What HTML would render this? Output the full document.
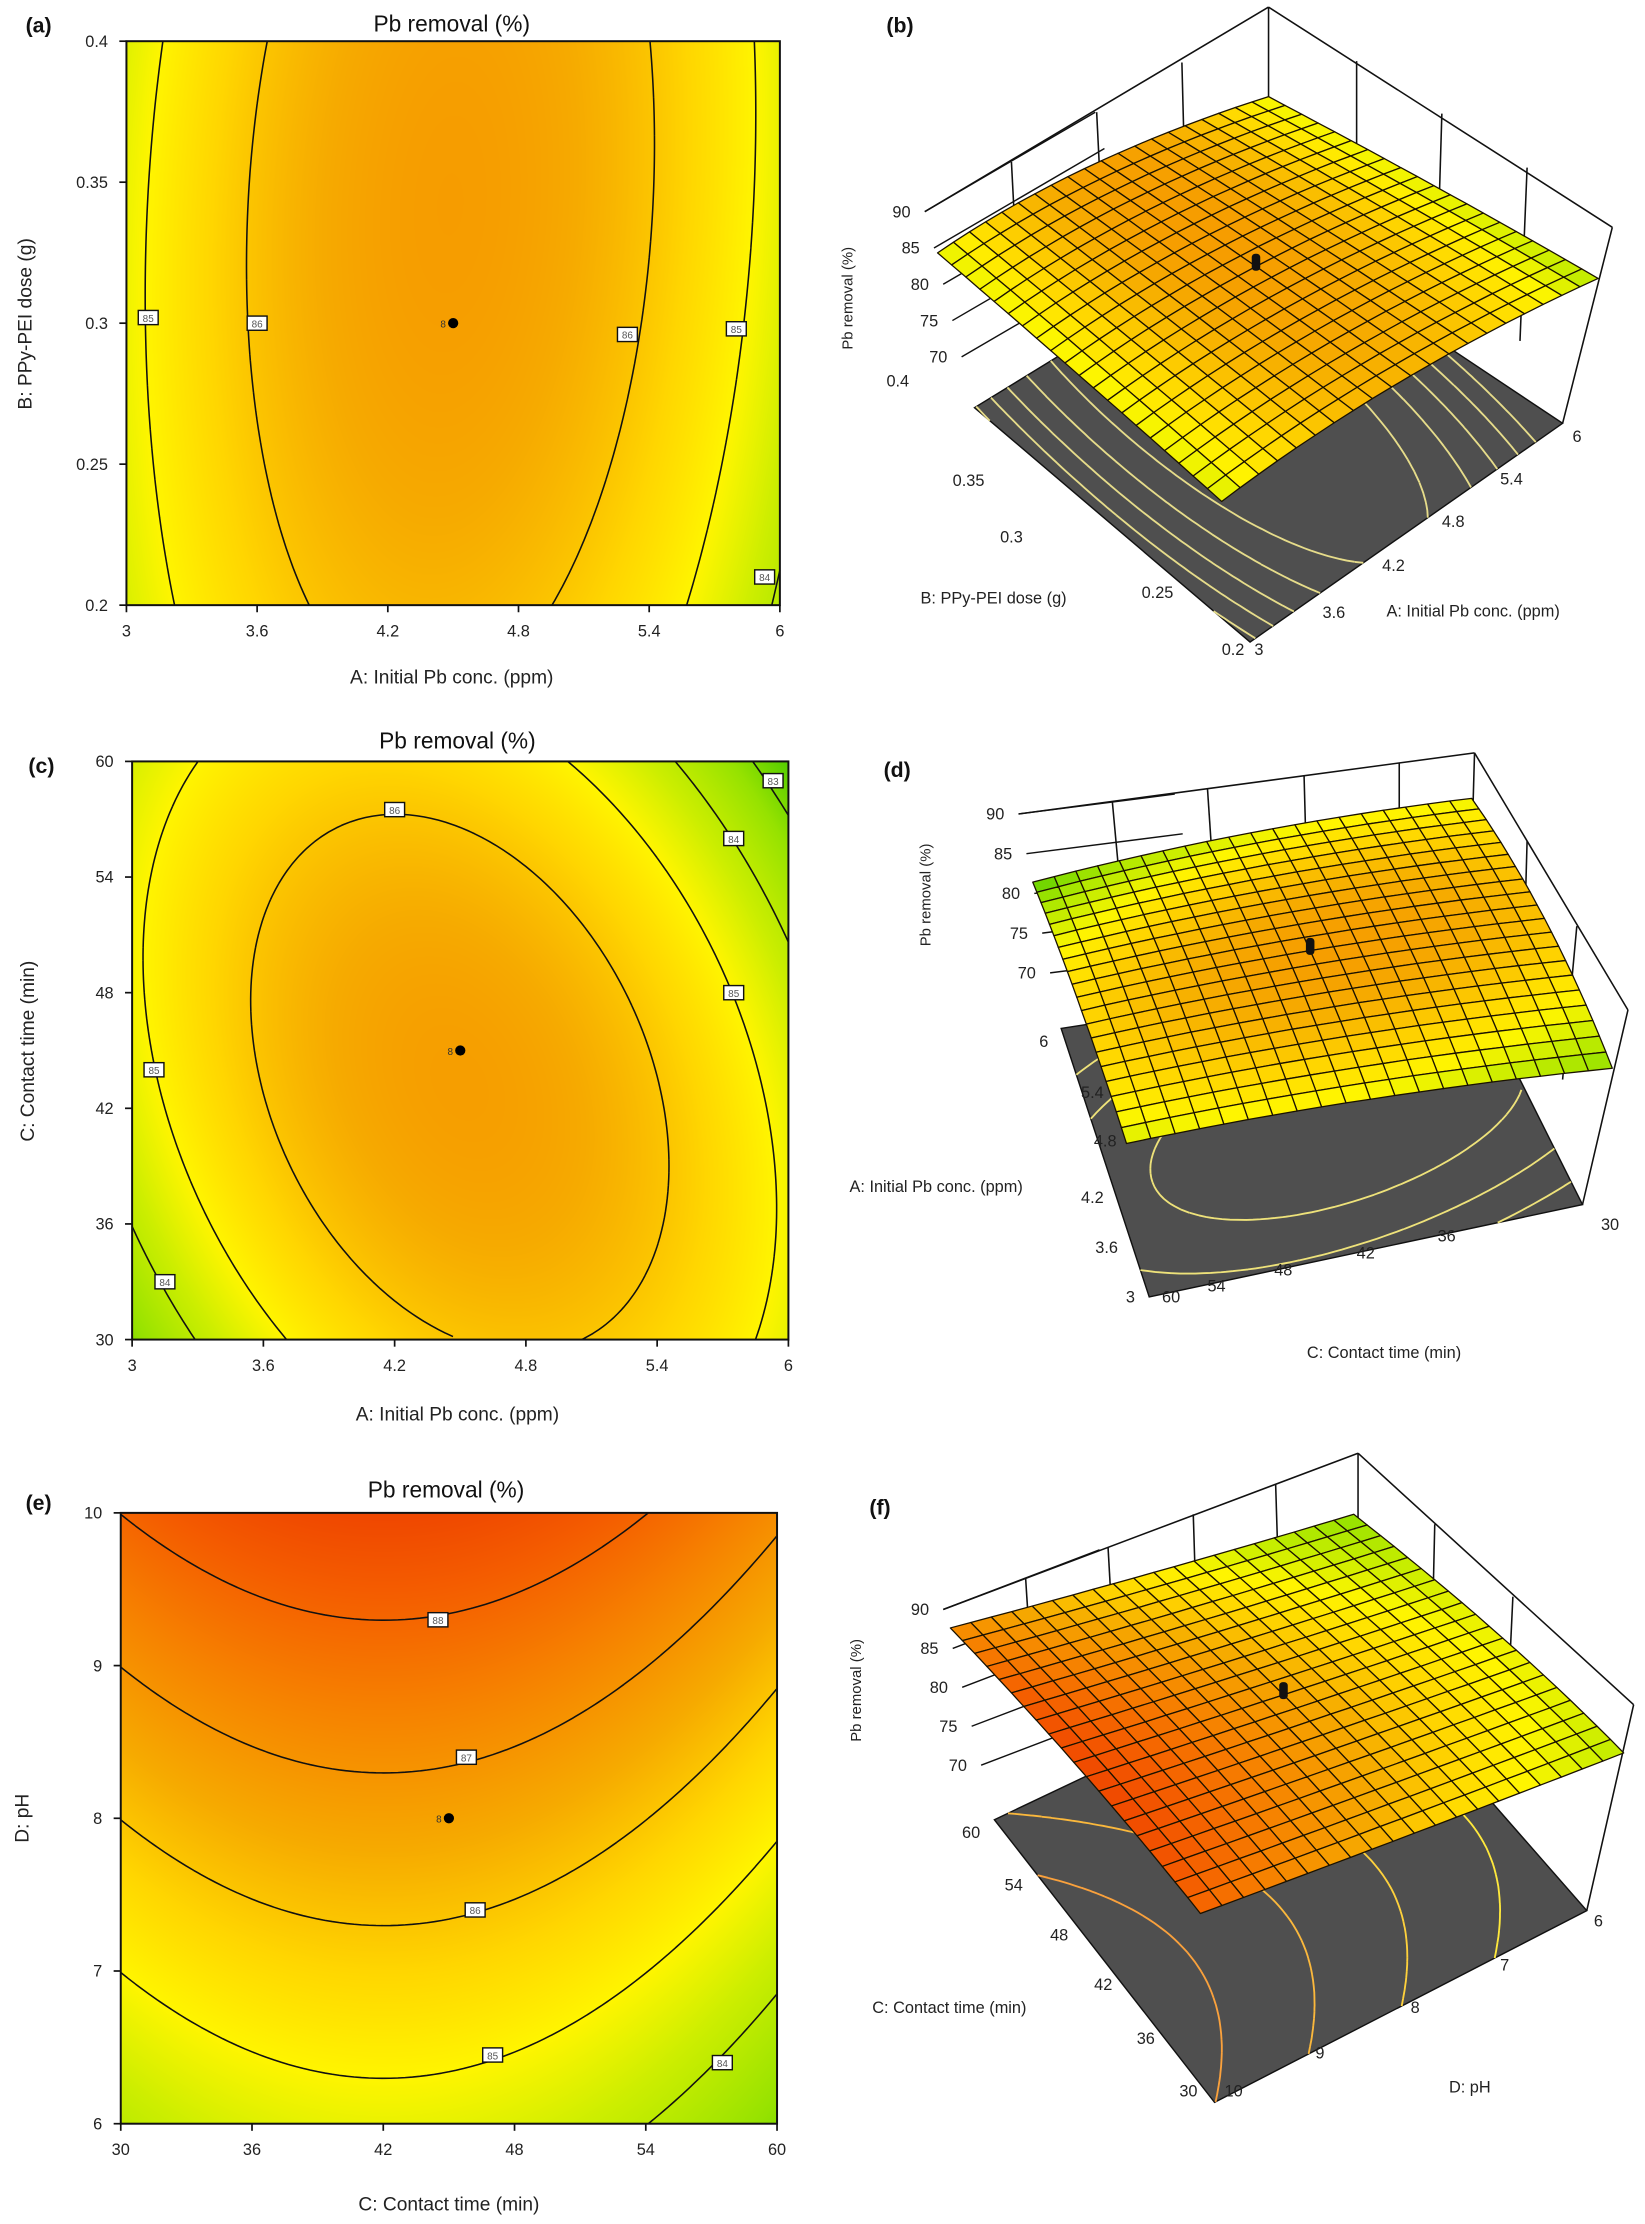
<!DOCTYPE html>
<html><head><meta charset="utf-8"><title>Pb removal response surfaces</title>
<style>
html,body{margin:0;padding:0;background:#fff;}
#wrap{position:relative;width:1645px;height:2224px;overflow:hidden;}
#heat{position:absolute;left:0;top:0;}
#chart{position:absolute;left:0;top:0;}
text{font-family:"Liberation Sans",sans-serif;}
</style></head>
<body>
<div id="wrap">
<canvas id="heat" width="1645" height="2224"></canvas>
<svg id="chart" width="1645" height="2224" viewBox="0 0 1158 1565.6" xmlns="http://www.w3.org/2000/svg">
<g id="lab1" font-family="Liberation Serif, serif" font-weight="bold" font-size="15" fill="#111">
<text x="18" y="23">(a)</text>
<text x="624" y="23">(b)</text>
<text x="20" y="544">(c)</text>
<text x="622" y="547">(d)</text>
<text x="18" y="1063">(e)</text>
<text x="612" y="1066">(f)</text>
</g>
<g id="lab2" font-size="16" fill="#111" text-anchor="middle">
<text x="318" y="22">Pb removal (%)</text>
<text x="322" y="527">Pb removal (%)</text>
<text x="314" y="1054">Pb removal (%)</text>
</g>
<g id="lab3" font-size="13.5" fill="#222">
<text x="318" y="481" text-anchor="middle">A: Initial Pb conc.  (ppm)</text>
<text transform="translate(22,228) rotate(-90)" text-anchor="middle">B: PPy-PEI dose  (g)</text>
<text x="322" y="1000" text-anchor="middle">A: Initial Pb conc.  (ppm)</text>
<text transform="translate(24,740) rotate(-90)" text-anchor="middle">C: Contact time (min)</text>
<text x="316" y="1556" text-anchor="middle">C: Contact time (min)</text>
<text transform="translate(20,1280) rotate(-90)" text-anchor="middle">D: pH</text>
</g>
<g id="lab4" font-size="11.5" fill="#222">
<text transform="translate(600,210) rotate(-90)" text-anchor="middle" font-size="10.5">Pb removal (%)</text>
<text x="648" y="425">B: PPy-PEI dose  (g)</text>
<text x="976" y="434">A: Initial Pb conc.  (ppm)</text>
<text x="640" y="272" text-anchor="end">0.4</text>
<text x="693" y="342" text-anchor="end">0.35</text>
<text x="720" y="382" text-anchor="end">0.3</text>
<text x="826" y="421" text-anchor="end">0.25</text>
<text x="876" y="461" text-anchor="end">0.2</text>
<text x="883" y="461">3</text>
<text x="931" y="435">3.6</text>
<text x="973" y="402">4.2</text>
<text x="1015" y="371">4.8</text>
<text x="1056" y="341">5.4</text>
<text x="1107" y="311">6</text>

<text transform="translate(655,630) rotate(-90)" text-anchor="middle" font-size="10.5">Pb removal (%)</text>
<text x="598" y="839">A: Initial Pb conc.  (ppm)</text>
<text x="920" y="956">C: Contact time (min)</text>
<text x="738" y="737" text-anchor="end">6</text>
<text x="777" y="773" text-anchor="end">5.4</text>
<text x="786" y="807" text-anchor="end">4.8</text>
<text x="777" y="847" text-anchor="end">4.2</text>
<text x="787" y="882" text-anchor="end">3.6</text>
<text x="799" y="917" text-anchor="end">3</text>
<text x="818" y="917">60</text>
<text x="850" y="909">54</text>
<text x="897" y="898">48</text>
<text x="955" y="886">42</text>
<text x="1012" y="874">36</text>
<text x="1127" y="866">30</text>

<text transform="translate(606,1190) rotate(-90)" text-anchor="middle" font-size="10.5">Pb removal (%)</text>
<text x="614" y="1417">C: Contact time (min)</text>
<text x="1020" y="1473">D: pH</text>
<text x="690" y="1294" text-anchor="end">60</text>
<text x="720" y="1331" text-anchor="end">54</text>
<text x="752" y="1366" text-anchor="end">48</text>
<text x="783" y="1401" text-anchor="end">42</text>
<text x="813" y="1439" text-anchor="end">36</text>
<text x="843" y="1476" text-anchor="end">30</text>
<text x="862" y="1476">10</text>
<text x="926" y="1449">9</text>
<text x="993" y="1417">8</text>
<text x="1056" y="1387">7</text>
<text x="1122" y="1356">6</text>
</g>
</svg>
</div>
<script>
// ---------- data (model coefficients: b0, bx, by, bxy, bxx, byy in coded units) ----------
const coefA = [86.76, -0.11, 0.22, 0.18, -2.1, -0.26];
const coefC = [86.76, -0.106, -0.225, -0.884, -2.1, -0.985];
const coefE = [86.66, -0.43, 2.0, 0.0, -1.08, 0.0];
const levelsA = [84, 85, 86];
const levelsC = [83, 84, 85, 86];
const levelsE = [84, 85, 86, 87, 88];
const xTicksA = [3, 3.6, 4.2, 4.8, 5.4, 6];
const yTicksA = [0.2, 0.25, 0.3, 0.35, 0.4];
const xTicksC = [3, 3.6, 4.2, 4.8, 5.4, 6];
const yTicksC = [30, 36, 42, 48, 54, 60];
const xTicksE = [30, 36, 42, 48, 54, 60];
const yTicksE = [6, 7, 8, 9, 10];
const labelsA = [[3.1, 0.302, "85"], [3.6, 0.3, "86"], [5.3, 0.296, "86"], [5.8, 0.298, "85"], [5.93, 0.21, "84"]];
const labelsC = [[4.2, 57.5, "86"], [5.75, 56, "84"], [5.93, 59, "83"], [5.75, 48, "85"], [3.1, 44, "85"], [3.15, 33, "84"]];
const labelsE = [[44.5, 9.3, "88"], [45.8, 8.4, "87"], [46.2, 7.4, "86"], [47, 6.45, "85"], [57.5, 6.4, "84"]];
const zTicks = [70, 75, 80, 85, 90];
const floorLevelsB = [84.6, 85, 85.4, 85.8, 86.2];
const floorLevelsD = [84, 85, 86];
const floorLevelsF = [85, 86, 87, 88];

const S = 1645 / 1158;
const NS = 'http://www.w3.org/2000/svg';
const svg = document.getElementById('chart');
const ctx = document.getElementById('heat').getContext('2d');

function model(c, x, y) { return c[0] + c[1]*x + c[2]*y + c[3]*x*y + c[4]*x*x + c[5]*y*y; }
const stops = [[82.3,[70,200,0]],[83.3,[150,226,0]],[84.3,[205,238,0]],[85.0,[255,245,0]],[85.7,[255,214,0]],[86.5,[246,170,0]],[87.4,[246,130,0]],[88.2,[244,92,0]],[89,[236,58,0]]];
function cmap(v) {
  if (v <= stops[0][0]) return stops[0][1];
  for (let i = 1; i < stops.length; i++) {
    if (v <= stops[i][0]) {
      const t = (v - stops[i-1][0]) / (stops[i][0] - stops[i-1][0]);
      const a = stops[i-1][1], b = stops[i][1];
      return [a[0]+(b[0]-a[0])*t, a[1]+(b[1]-a[1])*t, a[2]+(b[2]-a[2])*t];
    }
  }
  return stops[stops.length-1][1];
}
function rgb(c) { return 'rgb(' + Math.round(c[0]) + ',' + Math.round(c[1]) + ',' + Math.round(c[2]) + ')'; }
function mk(tag, attrs, parent) {
  const e = document.createElementNS(NS, tag);
  for (const k in attrs) e.setAttribute(k, attrs[k]);
  (parent || svg).appendChild(e);
  return e;
}
function march(fn, n, level) {
  const g = [];
  for (let i = 0; i <= n; i++) { g.push([]); for (let j = 0; j <= n; j++) g[i].push(fn(i/n, j/n)); }
  const segs = [];
  for (let i = 0; i < n; i++) for (let j = 0; j < n; j++) {
    const cs = [[i,j],[i+1,j],[i+1,j+1],[i,j+1]];
    const pts = [];
    for (let e = 0; e < 4; e++) {
      const p = cs[e], q = cs[(e+1)%4];
      const a = g[p[0]][p[1]] - level, b = g[q[0]][q[1]] - level;
      if (a * b < 0) {
        const t = a / (a - b);
        pts.push([(p[0] + (q[0]-p[0])*t)/n, (p[1] + (q[1]-p[1])*t)/n]);
      }
    }
    if (pts.length >= 2) segs.push([pts[0], pts[1]]);
    if (pts.length === 4) segs.push([pts[2], pts[3]]);
  }
  return segs;
}

function draw2D(cfg) {
  const b = cfg.box;
  const g = mk('g', {});
  
  
  const sx = v => b.x0 + (v - cfg.xr[0]) / (cfg.xr[1] - cfg.xr[0]) * (b.x1 - b.x0);
  const sy = v => b.y1 - (v - cfg.yr[0]) / (cfg.yr[1] - cfg.yr[0]) * (b.y1 - b.y0);
  const X0 = Math.round(b.x0*S), Y0 = Math.round(b.y0*S), W = Math.round(b.x1*S) - X0, H = Math.round(b.y1*S) - Y0;
  const img = ctx.createImageData(W, H);
  for (let py = 0; py < H; py++) for (let px = 0; px < W; px++) {
    const u = (px + 0.5) / W, v = 1 - (py + 0.5) / H;
    const c = cmap(model(cfg.coef, 2*u-1, 2*v-1));
    const o = (py*W + px) * 4;
    img.data[o] = c[0]; img.data[o+1] = c[1]; img.data[o+2] = c[2]; img.data[o+3] = 255;
  }
  ctx.putImageData(img, X0, Y0);
  cfg.levels.forEach(L => {
    const segs = march((u, v) => model(cfg.coef, 2*u-1, 2*v-1), 90, L);
    let d = '';
    segs.forEach(s => {
      d += 'M' + (b.x0 + s[0][0]*(b.x1-b.x0)).toFixed(2) + ' ' + (b.y1 - s[0][1]*(b.y1-b.y0)).toFixed(2) +
           'L' + (b.x0 + s[1][0]*(b.x1-b.x0)).toFixed(2) + ' ' + (b.y1 - s[1][1]*(b.y1-b.y0)).toFixed(2);
    });
    const p = mk('path', {d: d, stroke: '#111', 'stroke-width': 1.1, fill: 'none'}, g);
    
    
  });
  const r = mk('rect', {x: b.x0, y: b.y0, width: b.x1-b.x0, height: b.y1-b.y0, fill: 'none', stroke: '#111', 'stroke-width': 1.4}, g);
  
  
  cfg.xt.forEach(t => {
    const x = sx(t);
    const l = mk('line', {x1: x, y1: b.y1, x2: x, y2: b.y1 + 5, stroke: '#111', 'stroke-width': 1.2}, g);
    
    
    const tx = mk('text', {x: x, y: b.y1 + 22, 'text-anchor': 'middle', 'font-size': 11.5, fill: '#222'}, g);
    tx.textContent = t;
    
    
  });
  cfg.yt.forEach(t => {
    const y = sy(t);
    const l = mk('line', {x1: b.x0 - 5, y1: y, x2: b.x0, y2: y, stroke: '#111', 'stroke-width': 1.2}, g);
    
    
    const tx = mk('text', {x: b.x0 - 13, y: y + 4, 'text-anchor': 'end', 'font-size': 11.5, fill: '#222'}, g);
    tx.textContent = t;
    
    
  });
  cfg.labels.forEach(L => {
    const x = sx(L[0]), y = sy(L[1]);
    const rr = mk('rect', {x: x - 7, y: y - 5, width: 14, height: 10, fill: '#fff', stroke: '#111', 'stroke-width': 1}, g);
    
    
    const tx = mk('text', {x: x, y: y + 3, 'text-anchor': 'middle', 'font-size': 7, fill: '#555'}, g);
    tx.textContent = L[2];
    
    
  });
  const cx = sx((cfg.xr[0]+cfg.xr[1])/2), cy = sy((cfg.yr[0]+cfg.yr[1])/2);
  const dot = mk('circle', {cx: cx, cy: cy, r: 3.6, fill: '#000'}, g);
  
  
  const dt = mk('text', {x: cx - 9, y: cy + 3, 'font-size': 7, fill: '#333'}, g);
  dt.textContent = '8';
  
  
}

function draw3D(cfg) {
  const g = mk('g', {});
  
  
  const zb = cfg.zb, F = cfg.floor, Sf = cfg.surf;
  const cv = [model(cfg.coef,-1,-1), model(cfg.coef,1,-1), model(cfg.coef,-1,1), model(cfg.coef,1,1)];
  const ky = [0,1,2,3].map(i => (F[i][1] - Sf[i][1]) / (cv[i] - zb));
  const kx = [0,1,2,3].map(i => (Sf[i][0] - F[i][0]) / (cv[i] - zb));
  const bil = (a, u, v) => a[0]*(1-u)*(1-v) + a[1]*u*(1-v) + a[2]*(1-u)*v + a[3]*u*v;
  const proj = (u, v, z) => {
    const fx = bil(F.map(p => p[0]), u, v), fy = bil(F.map(p => p[1]), u, v);
    return [fx + bil(kx, u, v)*(z - zb), fy - bil(ky, u, v)*(z - zb)];
  };
  const fz = (u, v) => model(cfg.coef, 2*u-1, 2*v-1);
  cfg.box.forEach(seg => {
    const l = mk('line', {x1: seg[0], y1: seg[1], x2: seg[2], y2: seg[3], stroke: '#111', 'stroke-width': 1.1}, g);
    
    
  });
  const za = cfg.zaxis;
  zTicks.forEach(z => {
    const t = (90 - z) / (90 - za[4]);
    const x = za[0] + (za[2]-za[0])*t, y = za[1] + (za[3]-za[1])*t;
    const l = mk('line', {x1: x, y1: y, x2: x + cfg.wall[0], y2: y + cfg.wall[1], stroke: '#111', 'stroke-width': 1}, g);
    
    
    const tx = mk('text', {x: x - 10, y: y + 4, 'text-anchor': 'end', 'font-size': 11.5, fill: '#222'}, g);
    tx.textContent = z;
    
    
  });
  const fp = [proj(0,0,zb), proj(1,0,zb), proj(1,1,zb), proj(0,1,zb)];
  const fl = mk('polygon', {points: fp.map(p => p[0].toFixed(1)+','+p[1].toFixed(1)).join(' '), fill: '#4f4f4f', stroke: '#111', 'stroke-width': 1}, g);
  
  
  cfg.floorLevels.forEach(L => {
    const segs = march(fz, 60, L);
    let d = '';
    segs.forEach(s => {
      const a = proj(s[0][0], s[0][1], zb), b2 = proj(s[1][0], s[1][1], zb);
      d += 'M' + a[0].toFixed(1) + ' ' + a[1].toFixed(1) + 'L' + b2[0].toFixed(1) + ' ' + b2[1].toFixed(1);
    });
    const c = cmap(L);
    const p = mk('path', {d: d, stroke: cfg.floorColor || rgb([c[0]*0.5+128, c[1]*0.5+110, c[2]*0.5+60]), 'stroke-width': 1.3, fill: 'none'}, g);
    
    
  });
  const N = 20, cells = [];
  for (let i = 0; i < N; i++) for (let j = 0; j < N; j++) {
    const q = [[i,j],[i+1,j],[i+1,j+1],[i,j+1]].map(c => proj(c[0]/N, c[1]/N, fz(c[0]/N, c[1]/N)));
    const val = fz((i+0.5)/N, (j+0.5)/N);
    cells.push([q, val, (q[0][1]+q[2][1])/2]);
  }
  cells.sort((a, b2) => a[2] - b2[2]);
  cells.forEach(c => {
    const p = mk('polygon', {points: c[0].map(p => p[0].toFixed(1)+','+p[1].toFixed(1)).join(' '), fill: rgb(cmap(c[1])), stroke: '#1a1200', 'stroke-width': 0.9, 'stroke-linejoin': 'round'}, g);
    
    
  });
  const cp = proj(0.5, 0.5, fz(0.5, 0.5));
  const m = mk('rect', {x: cp[0]-3, y: cp[1]-9, width: 6, height: 12, rx: 2.5, fill: '#111'}, g);
  
  
}

draw2D({name: 'contour-plot-a', box: {x0: 89, x1: 549, y0: 29, y1: 426}, xr: [3, 6], yr: [0.2, 0.4], coef: coefA, levels: levelsA, xt: xTicksA, yt: yTicksA, labels: labelsA});
draw2D({name: 'contour-plot-c', box: {x0: 93, x1: 555, y0: 536, y1: 943}, xr: [3, 6], yr: [30, 60], coef: coefC, levels: levelsC, xt: xTicksC, yt: yTicksC, labels: labelsC});
draw2D({name: 'contour-plot-e', box: {x0: 85, x1: 547, y0: 1065, y1: 1495}, xr: [30, 60], yr: [6, 10], coef: coefE, levels: levelsE, xt: xTicksE, yt: yTicksE, labels: labelsE});

draw3D({name: 'surface-plot-b', coef: coefA, zb: 63,
  floor: [[880,452],[1100,298],[686,287],[893,160]],
  surf: [[860,353],[1125,196],[660,178],[893,68]],
  box: [[651,149,893,5],[893,5,1135,160],[1135,160,1100,298],[893,5,893,160],
        [712,114,717,210],[772,79,777,180],[832,44,835,160],[955,43,955,140],[1015,80,1012,180],[1075,118,1070,240]],
  zaxis: [651,149,686,287,63], wall: [120,-70], floorLevels: floorLevelsB, floorColor: '#e6dc8a'});
draw3D({name: 'surface-plot-d', coef: coefC, zb: 63,
  floor: [[1114,848],[1030,680],[809,913],[747,724]],
  surf: [[1135,752],[1036,562],[793,805],[727,621]],
  box: [[717,573,1038,530],[1038,530,1146,711],[1146,711,1114,848],[1038,530,1036,600],
        [783,564,790,640],[850,555,855,630],[918,546,920,620],[985,537,985,610],[1075,592,1072,700],[1110,652,1100,760]],
  zaxis: [717,573,747,724,63], wall: [110,-14], floorLevels: floorLevelsD, floorColor: '#eee27a'});
draw3D({name: 'surface-plot-f', coef: coefE, zb: 63,
  floor: [[1117,1345],[955,1160],[855,1480],[700,1281]],
  surf: [[1143,1234],[953,1066],[845,1347],[669,1146]],
  box: [[664,1133,956,1023],[956,1023,1150,1200],[1150,1200,1117,1345],[956,1023,956,1100],
        [722,1111,727,1190],[780,1089,784,1160],[840,1066,842,1130],[898,1045,900,1110],[1010,1073,1008,1160],[1065,1124,1060,1230]],
  zaxis: [664,1133,700,1281,63], wall: [110,-42], floorLevels: floorLevelsF});

['lab1','lab2','lab3','lab4'].forEach(id => svg.appendChild(document.getElementById(id)));
</script>
</body></html>
